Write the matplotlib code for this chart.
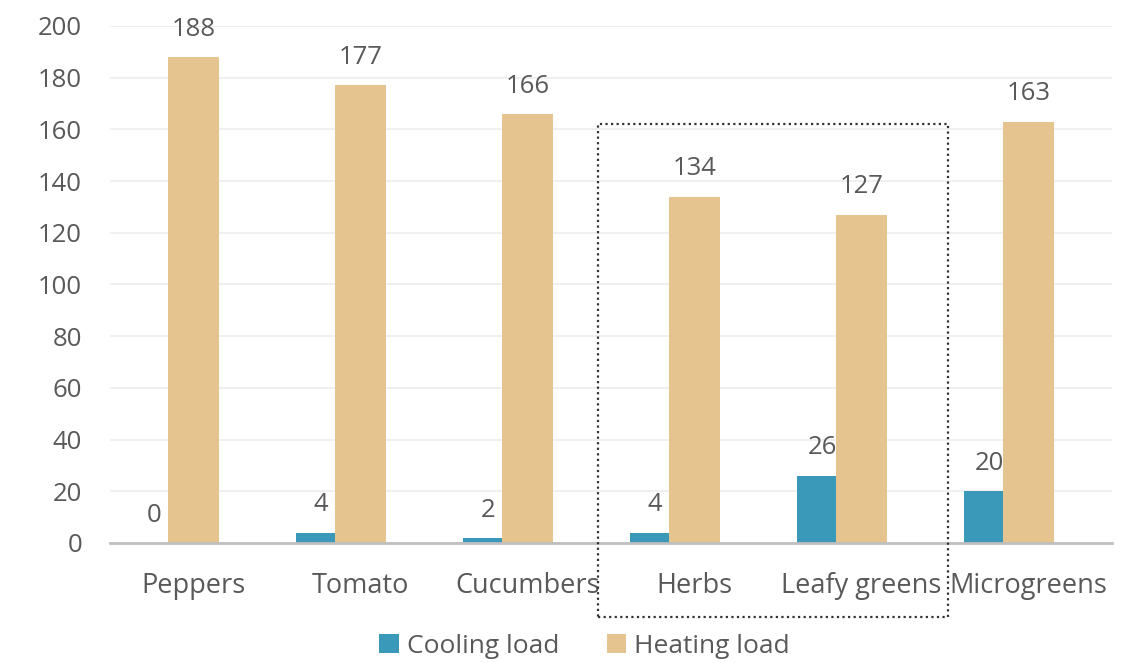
import numpy as np
import matplotlib.pyplot as plt
from matplotlib.patches import Rectangle

crops = ["Peppers", "Tomato", "Cucumbers", "Herbs", "Leafy greens", "Microgreens"]
cooling = [0, 4, 2, 4, 26, 20]
heating = [188, 177, 166, 134, 127, 163]
yticks = [0, 20, 40, 60, 80, 100, 120, 140, 160, 180, 200]

cool_col = "#3A98B9"
heat_col = "#E6C48F"
txt_col = "#595959"

plt.rcParams['font.family'] = ['Open Sans', 'DejaVu Sans']

fig = plt.figure(figsize=(11.37, 6.63), dpi=100)
ax = fig.add_axes([0.0967, 0.181, 0.8813, 0.7799])

x = np.arange(len(crops))
w_heat = 0.31
w_cool = 0.23
cool_x = x - w_heat / 2 - w_cool / 2

ax.bar(cool_x, cooling, width=w_cool, color=cool_col, label="Cooling load", zorder=3)
ax.bar(x, heating, width=w_heat, color=heat_col, label="Heating load", zorder=3)

for xi, v in zip(cool_x, cooling):
    ax.annotate(str(v), (xi, v), xytext=(4, 11), textcoords="offset points",
                ha="center", va="bottom", fontsize=18.5, color=txt_col)
for xi, v in zip(x, heating):
    ax.annotate(str(v), (xi, v), xytext=(0, 11), textcoords="offset points",
                ha="center", va="bottom", fontsize=18.5, color=txt_col)

ax.set_xlim(-0.5, len(crops) - 0.5)
ax.set_ylim(0, 200)
ax.set_yticks(yticks)
ax.set_xticks(x)
ax.set_xticklabels(crops)
ax.tick_params(axis="both", length=0, labelcolor=txt_col)
ax.tick_params(axis="y", pad=20, labelsize=18.5)
ax.tick_params(axis="x", pad=21, labelsize=19.5)
ax.grid(axis="y", color="#EDEDED", linewidth=1.2, zorder=0)
for s in ["top", "right", "left"]:
    ax.spines[s].set_visible(False)
ax.spines["bottom"].set_color("#BFBFBF")
ax.spines["bottom"].set_linewidth(2)
ax.spines["bottom"].set_zorder(4)

# dotted frame around Herbs and Leafy greens
box = Rectangle((2.42, -28.6), 2.1, 190.6, fill=False, linestyle=(0, (1, 1.5)),
                linewidth=1.6, edgecolor="#333333", clip_on=False, zorder=5)
ax.add_patch(box)

leg = fig.legend(loc="center", bbox_to_anchor=(0.514, 0.025), ncol=2, frameon=False,
                 fontsize=19, handlelength=0.75, handleheight=0.75, handletextpad=0.3,
                 columnspacing=1.8)
for t in leg.get_texts():
    t.set_color(txt_col)

fig.savefig("out.png", dpi=100)
